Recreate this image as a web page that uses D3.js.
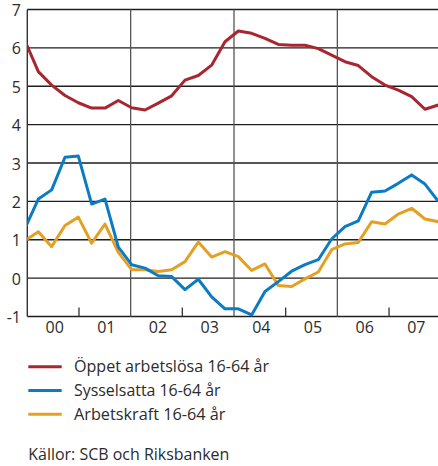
<!DOCTYPE html>
<html><head><meta charset="utf-8">
<script src="https://cdn.jsdelivr.net/npm/d3@7"></script>
<style>body{margin:0;background:#fff} svg{display:block}</style>
</head><body><svg id="c" width="438" height="466"></svg>
<script>
const years = ["00","01","02","03","04","05","06","07"];
const yTicks = [-1,0,1,2,3,4,5,6,7];
const unemployed = [6.18,5.38,5.03,4.76,4.57,4.43,4.43,4.63,4.44,4.38,4.56,4.75,5.16,5.28,5.55,6.16,6.44,6.38,6.25,6.09,6.07,6.07,5.98,5.81,5.64,5.54,5.25,5.03,4.90,4.73,4.40,4.51];
const employed = [1.30,2.06,2.30,3.15,3.18,1.93,2.06,0.81,0.35,0.26,0.06,0.04,-0.30,-0.03,-0.49,-0.80,-0.80,-0.96,-0.35,-0.09,0.18,0.35,0.48,1.02,1.34,1.49,2.24,2.27,2.47,2.69,2.45,2.00];
const labourForce = [0.98,1.21,0.82,1.37,1.59,0.91,1.41,0.67,0.22,0.22,0.17,0.22,0.43,0.94,0.55,0.69,0.56,0.20,0.37,-0.19,-0.22,-0.02,0.16,0.74,0.89,0.93,1.47,1.41,1.67,1.82,1.54,1.47];
const seriesNames = ["Öppet arbetslösa 16-64 år","Sysselsatta 16-64 år","Arbetskraft 16-64 år"];
const seriesColors = ["#a8262f","#0a7bc4","#e5a023"];
const sourceText = "Källor: SCB och Riksbanken";

const svg = d3.select("#c");
const L = 27.3, R = 438, T = 9.5, B = 316.5;
const font = "'Open Sans', sans-serif";
const txt = "#2b2b2b";

const y = d3.scaleLinear().domain([-1,7]).range([B,T]);
const xq = d3.scaleLinear().domain([0,31]).range([25,438.3]);
const xy = d3.scaleLinear().domain([0,8]).range([L,440.7]);

svg.append("clipPath").attr("id","clip").append("rect")
  .attr("x",L).attr("y",0).attr("width",R-L).attr("height",466);

// grid lines
svg.append("g").selectAll("line").data(yTicks).join("line")
  .attr("x1",L).attr("x2",R).attr("y1",d=>y(d)).attr("y2",d=>y(d))
  .attr("stroke","#1e1e1e").attr("stroke-width",1.4);

// vertical year separators
svg.append("g").selectAll("line").data([2,4,6]).join("line")
  .attr("x1",d=>xy(d)).attr("x2",d=>xy(d)).attr("y1",T).attr("y2",B)
  .attr("stroke","#555").attr("stroke-width",1.3);
// small ticks
svg.append("g").selectAll("line").data([1,3,5,7]).join("line")
  .attr("x1",d=>xy(d)).attr("x2",d=>xy(d)).attr("y1",B-9).attr("y2",B)
  .attr("stroke","#333").attr("stroke-width",1.3);
// left axis
svg.append("line").attr("x1",L).attr("x2",L).attr("y1",T).attr("y2",B)
  .attr("stroke","#333").attr("stroke-width",1.4);

// y labels
svg.append("g").selectAll("text").data(yTicks).join("text")
  .attr("x",21).attr("y",d=>y(d)+6.5).attr("text-anchor","end")
  .attr("font-family",font).attr("font-size",16).attr("fill",txt).text(d=>d);

// x labels
svg.append("g").selectAll("text").data(years).join("text")
  .attr("x",(d,i)=>xy(i+0.5)+1.5).attr("y",333).attr("text-anchor","middle")
  .attr("font-family",font).attr("font-size",16).attr("fill",txt).text(d=>d);

const line = d3.line().x((d,i)=>xq(i)).y(d=>y(d));
const series = [unemployed, employed, labourForce];
const drawOrder = [2,1,0];
const gl = svg.append("g").attr("clip-path","url(#clip)");
drawOrder.forEach(i=>{
  gl.append("path").attr("d",line(series[i])).attr("fill","none")
    .attr("stroke",seriesColors[i]).attr("stroke-width",3).attr("stroke-linejoin","round");
});

// legend
const legendWidths = [195, 146.5, 151.5];
const lg = svg.append("g");
seriesNames.forEach((n,i)=>{
  const ly = 366.7 + i*23.8;
  lg.append("line").attr("x1",28.3).attr("x2",61.7).attr("y1",ly).attr("y2",ly)
    .attr("stroke",seriesColors[i]).attr("stroke-width",3);
  lg.append("text").attr("x",74).attr("y",ly+5.5).attr("font-family",font)
    .attr("font-size",16).attr("fill",txt)
    .attr("textLength",legendWidths[i]).attr("lengthAdjust","spacingAndGlyphs").text(n);
});
svg.append("text").attr("x",28.3).attr("y",460).attr("font-family",font)
  .attr("font-size",16).attr("fill",txt)
  .attr("textLength",201).attr("lengthAdjust","spacingAndGlyphs").text(sourceText);
</script></body></html>
